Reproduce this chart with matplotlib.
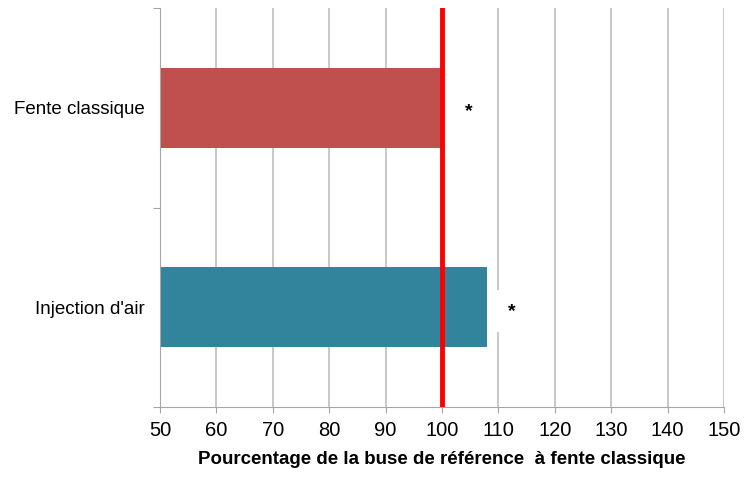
import numpy as np
import matplotlib.pyplot as plt
from matplotlib.ticker import FixedLocator, NullFormatter

categories = ['Fente classique', "Injection d'air"]
values = [100, 108]
colors = ['#C0504D', '#31849B']
star_x = [104.8, 112.4]
ref_value = 100

plt.rcParams['font.family'] = ['Liberation Sans', 'DejaVu Sans']
grey = '#A6A6A6'

fig = plt.figure(figsize=(7.51, 4.79), dpi=100)
ax = fig.add_axes([160 / 751, 1 - 407 / 479, 564 / 751, 399 / 479])

y = np.arange(len(categories))
ax.barh(y, [v - 50 for v in values], left=50, height=0.4, color=colors, zorder=2)
ax.axvline(ref_value, color='#FF0000', lw=3.5, zorder=3)

for yi, sx in zip(y, star_x):
    ax.text(sx, yi + 0.02, '*', ha='center', va='center', fontsize=14, fontweight='bold',
            bbox=dict(facecolor='white', edgecolor='none', pad=9), zorder=4)

ax.set_xlim(50, 150)
ax.set_ylim(len(categories) - 0.5, -0.5)
ax.set_xticks(np.arange(50, 151, 10))
ax.grid(axis='x', color='#BFBFBF', lw=1.2, zorder=0)

ax.yaxis.set_major_locator(FixedLocator([-0.5, 0.5, 1.5]))
ax.yaxis.set_major_formatter(NullFormatter())
ax.yaxis.set_minor_locator(FixedLocator(y))
ax.set_yticklabels(categories, minor=True)
ax.tick_params(axis='y', which='major', length=5, color=grey)
ax.tick_params(axis='y', which='minor', length=0, labelsize=13.5, pad=11)
ax.tick_params(axis='x', length=4, color=grey, labelsize=14.5, pad=6)

for s in ['top', 'right']:
    ax.spines[s].set_visible(False)
for s in ['left', 'bottom']:
    ax.spines[s].set_color(grey)

ax.set_xlabel('Pourcentage de la buse de référence  à fente classique',
              fontsize=13.5, fontweight='bold', labelpad=8)

fig.savefig('out.png', dpi=100)
